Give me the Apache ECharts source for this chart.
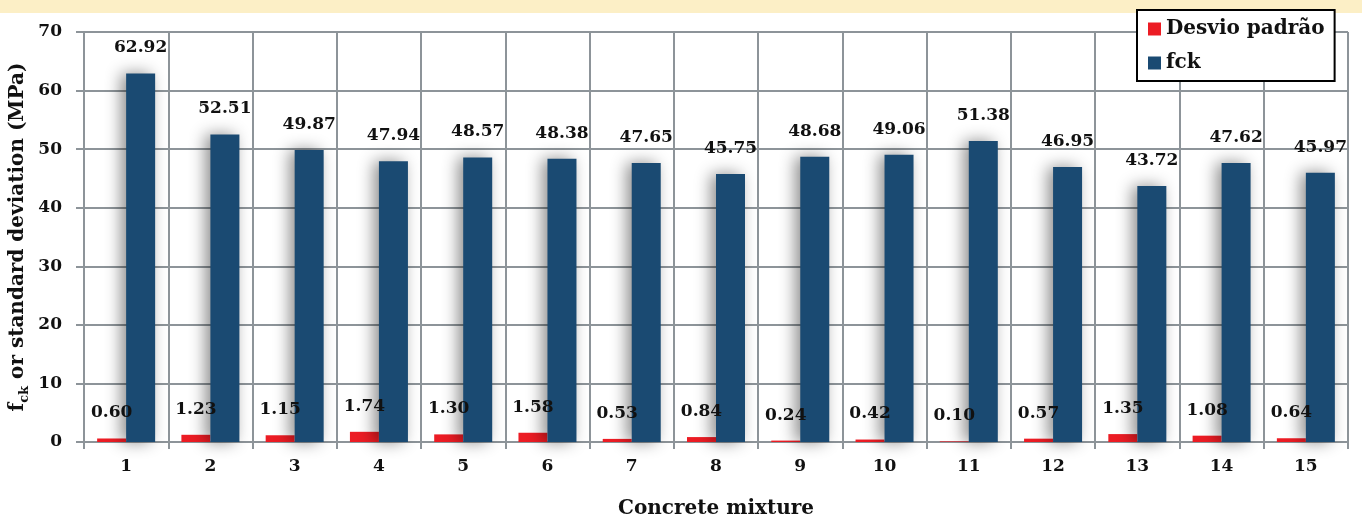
<!DOCTYPE html>
<html>
<head>
<meta charset="utf-8">
<script src="https://cdn.jsdelivr.net/npm/echarts@6/dist/echarts.min.js"></script>
<style>
  html, body { margin: 0; padding: 0; background: #fff; }
  #chart1 { width: 1362px; height: 521px; }
</style>
</head>
<body>
<div id="chart1"></div>
<script>
var mixtures = ['1', '2', '3', '4', '5', '6', '7', '8', '9', '10', '11', '12', '13', '14', '15'];
var desvio = [0.60, 1.23, 1.15, 1.74, 1.30, 1.58, 0.53, 0.84, 0.24, 0.42, 0.10, 0.57, 1.35, 1.08, 0.64];
var fck = [62.92, 52.51, 49.87, 47.94, 48.57, 48.38, 47.65, 45.75, 48.68, 49.06, 51.38, 46.95, 43.72, 47.62, 45.97];

var FONT = '"DejaVu Serif", "Liberation Serif", serif';
var GRID = '#8d9499';

function _initChart () {
    var myChart = echarts.init(document.getElementById('chart1'));
    var labelStyle = {
        show: true,
        position: 'top',
        distance: 17,
        color: '#111',
        fontFamily: FONT,
        fontWeight: 'bold',
        fontSize: 17,
        formatter: function (p) { return p.value.toFixed(2); }
    };
    var option = {
        backgroundColor: '#fff',
        graphic: [
            // faixa amarela no topo
            { type: 'rect', left: 0, top: 0, shape: { width: 1362, height: 13 }, style: { fill: '#fcefc6' }, z: -1 }
        ],
        legend: {
            orient: 'vertical',
            left: 1137,
            top: 10,
            padding: [9, 10, 8, 11],
            itemGap: 14,
            itemWidth: 13,
            itemHeight: 13,
            icon: 'rect',
            backgroundColor: '#fff',
            borderColor: '#000',
            borderWidth: 2,
            textStyle: { fontFamily: FONT, fontWeight: 'bold', fontSize: 20, color: '#111', width: 164 },
            data: ['Desvio padrão', 'fck'],
            z: 10
        },
        grid: { left: 84, right: 14, top: 32, bottom: 79, outerBoundsMode: 'none' },
        xAxis: {
            type: 'category',
            data: mixtures,
            name: 'Concrete mixture',
            nameLocation: 'middle',
            nameGap: 57,
            nameTextStyle: { fontFamily: FONT, fontWeight: 'bold', fontSize: 20, color: '#111' },
            axisLine: { lineStyle: { color: GRID, width: 2 } },
            axisTick: { show: true, length: 7, lineStyle: { color: GRID, width: 2 } },
            axisLabel: { margin: 16, fontFamily: FONT, fontWeight: 'bold', fontSize: 17, color: '#111' },
            splitLine: { show: true, lineStyle: { color: GRID, width: 2 } }
        },
        yAxis: {
            type: 'value',
            min: 0,
            max: 70,
            interval: 10,
            name: '{a|f}{sub|ck}{a| or standard deviation (MPa)}',
            nameLocation: 'middle',
            nameGap: 53,
            nameMoveOverlap: false,
            nameTextStyle: {
                rich: {
                    a: { fontFamily: FONT, fontWeight: 'bold', fontSize: 20, color: '#111', lineHeight: 26 },
                    sub: { fontFamily: FONT, fontWeight: 'bold', fontSize: 13, color: '#111', lineHeight: 26, verticalAlign: 'bottom', padding: [9, 0, 0, 0] }
                }
            },
            axisLine: { show: true, lineStyle: { color: GRID, width: 2 } },
            axisTick: { show: true, length: 8, lineStyle: { color: GRID, width: 2 } },
            axisLabel: { margin: 22, fontFamily: FONT, fontWeight: 'bold', fontSize: 17, color: '#111' },
            splitLine: { show: true, lineStyle: { color: GRID, width: 2 } }
        },
        series: [
            {
                name: 'Desvio padrão',
                type: 'bar',
                barWidth: 29,
                barGap: '0%',
                data: desvio,
                itemStyle: { color: '#ec1c24' },
                label: labelStyle
            },
            {
                name: 'fck',
                type: 'bar',
                barWidth: 29,
                data: fck,
                itemStyle: {
                    color: '#1a4a72',
                    shadowColor: 'rgba(0,0,0,0.45)',
                    shadowBlur: 16,
                    shadowOffsetX: -5
                },
                label: labelStyle
            }
        ]
    };
    myChart.setOption(option);
    window.onresize = myChart.resize;
}
_initChart();
</script>
</body>
</html>
